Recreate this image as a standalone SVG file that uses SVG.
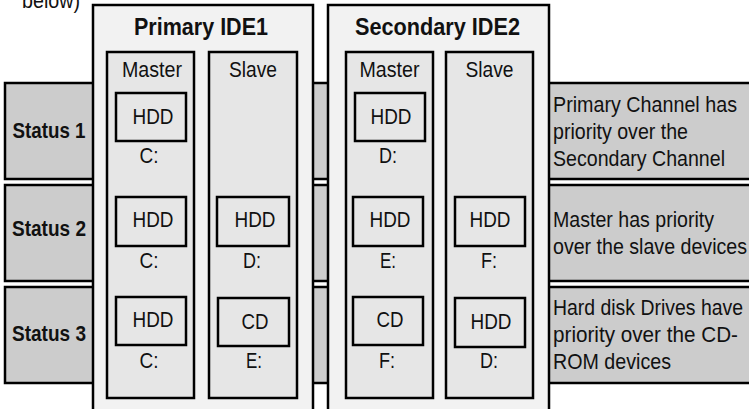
<svg xmlns="http://www.w3.org/2000/svg" width="749" height="409" viewBox="0 0 749 409">
<style>
.row{fill:#cccccc;stroke:#000;stroke-width:2.5}
.ide{fill:#f2f2f2;stroke:#000;stroke-width:2.5}
.col{fill:#e6e6e6;stroke:#000;stroke-width:2.5}
.box{fill:#e6e6e6;stroke:#000;stroke-width:2.5}
text{font-family:"Liberation Sans",Arial,sans-serif;fill:#111;font-size:22px}
.b{font-weight:bold}
.t{font-size:24px;font-weight:bold}
.m{text-anchor:middle}
</style>
<rect width="749" height="409" fill="#fff"/>
<text x="22" y="8" textLength="58" lengthAdjust="spacingAndGlyphs">below)</text>
<g id="status1"><rect class="row" x="5" y="83" width="760" height="96"/><text class="b m" x="49" y="138" textLength="73" lengthAdjust="spacingAndGlyphs">Status 1</text>
<text x="553" y="112" textLength="184" lengthAdjust="spacingAndGlyphs">Primary Channel has</text><text x="553" y="139" textLength="135" lengthAdjust="spacingAndGlyphs">priority over the</text><text x="553" y="166" textLength="172" lengthAdjust="spacingAndGlyphs">Secondary Channel</text></g>
<g id="status2"><rect class="row" x="5" y="185" width="760" height="96"/><text class="b m" x="49" y="236" textLength="74" lengthAdjust="spacingAndGlyphs">Status 2</text>
<text x="553" y="227" textLength="161" lengthAdjust="spacingAndGlyphs">Master has priority</text><text x="553" y="254" textLength="194" lengthAdjust="spacingAndGlyphs">over the slave devices</text></g>
<g id="status3"><rect class="row" x="5" y="287" width="760" height="96"/><text class="b m" x="49" y="341" textLength="74" lengthAdjust="spacingAndGlyphs">Status 3</text>
<text x="553" y="315" textLength="190" lengthAdjust="spacingAndGlyphs">Hard disk Drives have</text><text x="553" y="342" textLength="185" lengthAdjust="spacingAndGlyphs">priority over the CD-</text><text x="553" y="369" textLength="118" lengthAdjust="spacingAndGlyphs">ROM devices</text></g>
<g id="ide1"><rect class="ide" x="93" y="5" width="220" height="420"/><text class="t m" x="201" y="35" textLength="134" lengthAdjust="spacingAndGlyphs">Primary IDE1</text>
<g id="ide1-master"><rect class="col" x="107" y="52" width="87" height="346"/><text class="m" x="152" y="77" textLength="60" lengthAdjust="spacingAndGlyphs">Master</text>
<rect class="box" x="116" y="93" width="70" height="48"/><text class="m" x="153" y="124" textLength="41" lengthAdjust="spacingAndGlyphs">HDD</text><text class="m" x="149" y="163" textLength="19" lengthAdjust="spacingAndGlyphs">C:</text>
<rect class="box" x="116" y="197" width="70" height="49"/><text class="m" x="153" y="227" textLength="41" lengthAdjust="spacingAndGlyphs">HDD</text><text class="m" x="149" y="268" textLength="19" lengthAdjust="spacingAndGlyphs">C:</text>
<rect class="box" x="116" y="297" width="70" height="48"/><text class="m" x="153" y="327" textLength="41" lengthAdjust="spacingAndGlyphs">HDD</text><text class="m" x="149" y="368" textLength="19" lengthAdjust="spacingAndGlyphs">C:</text></g>
<g id="ide1-slave"><rect class="col" x="209" y="52" width="88" height="346"/><text class="m" x="253" y="77" textLength="48" lengthAdjust="spacingAndGlyphs">Slave</text>
<rect class="box" x="217" y="197" width="72" height="49"/><text class="m" x="255" y="227" textLength="41" lengthAdjust="spacingAndGlyphs">HDD</text><text class="m" x="252" y="268" textLength="18" lengthAdjust="spacingAndGlyphs">D:</text>
<rect class="box" x="218" y="298" width="71" height="48"/><text class="m" x="255" y="329" textLength="27" lengthAdjust="spacingAndGlyphs">CD</text><text class="m" x="254" y="368" textLength="16" lengthAdjust="spacingAndGlyphs">E:</text></g></g>
<g id="ide2"><rect class="ide" x="328" y="5" width="221" height="420"/><text class="t m" x="437.5" y="35" textLength="165" lengthAdjust="spacingAndGlyphs">Secondary IDE2</text>
<g id="ide2-master"><rect class="col" x="346" y="52" width="87" height="346"/><text class="m" x="389.5" y="77" textLength="60" lengthAdjust="spacingAndGlyphs">Master</text>
<rect class="box" x="355" y="93" width="70" height="48"/><text class="m" x="391" y="124" textLength="41" lengthAdjust="spacingAndGlyphs">HDD</text><text class="m" x="388" y="163" textLength="18" lengthAdjust="spacingAndGlyphs">D:</text>
<rect class="box" x="353" y="197" width="70" height="49"/><text class="m" x="390" y="227" textLength="41" lengthAdjust="spacingAndGlyphs">HDD</text><text class="m" x="388" y="268" textLength="16" lengthAdjust="spacingAndGlyphs">E:</text>
<rect class="box" x="353" y="297" width="70" height="48"/><text class="m" x="390" y="327" textLength="27" lengthAdjust="spacingAndGlyphs">CD</text><text class="m" x="387" y="368" textLength="16" lengthAdjust="spacingAndGlyphs">F:</text></g>
<g id="ide2-slave"><rect class="col" x="446" y="52" width="87" height="346"/><text class="m" x="489.5" y="77" textLength="48" lengthAdjust="spacingAndGlyphs">Slave</text>
<rect class="box" x="455" y="197" width="70" height="49"/><text class="m" x="490" y="227" textLength="41" lengthAdjust="spacingAndGlyphs">HDD</text><text class="m" x="489" y="268" textLength="16" lengthAdjust="spacingAndGlyphs">F:</text>
<rect class="box" x="455" y="298" width="70" height="49"/><text class="m" x="491" y="329" textLength="41" lengthAdjust="spacingAndGlyphs">HDD</text><text class="m" x="489" y="368" textLength="18" lengthAdjust="spacingAndGlyphs">D:</text></g></g>
</svg>
